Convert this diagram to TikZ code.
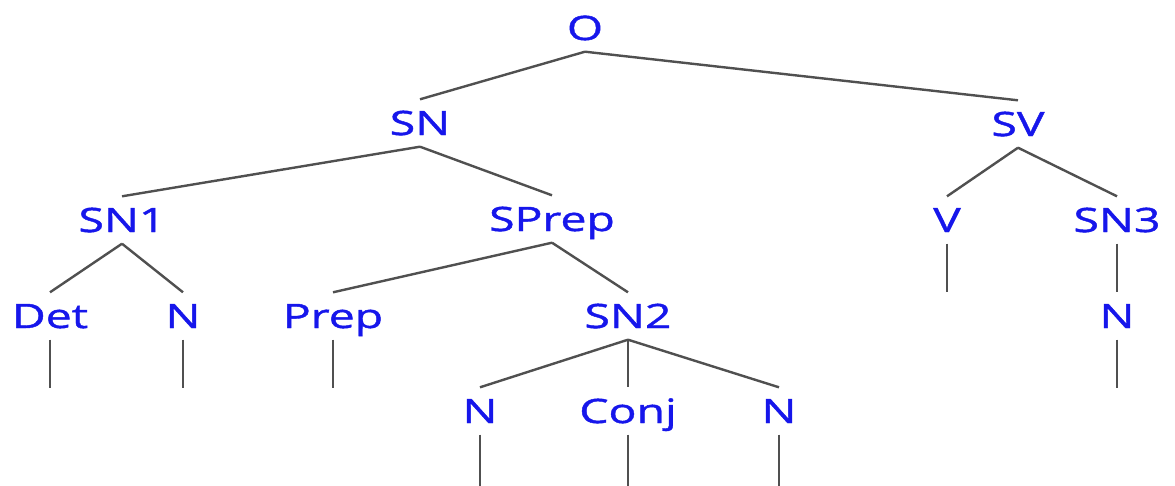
\documentclass[tikz,border=0pt]{standalone}
\usepackage{fontspec}
\newfontfamily\treefont[FakeStretch=1.38,FakeBold=1.3]{Open Sans}
\definecolor{labelblue}{RGB}{22,22,235}
\definecolor{edgegray}{RGB}{80,80,80}
\begin{document}
\begin{tikzpicture}[x=1pt,y=-1pt,
  lbl/.style={anchor=base,text=labelblue,inner xsep=0pt,inner ysep=11.5pt,
    text height=24pt,text depth=0pt,font=\treefont\fontsize{33.6}{40}\selectfont},
  edge/.style={draw=edgegray,line width=2.4pt}]
\useasboundingbox (0,0) rectangle (1175,485);
\fill[white] (0,0) rectangle (1175,485);
% nodes
\node[lbl] (O) at (585,40) {O};
\node[lbl] (SN) at (420,135) {SN};
\node[lbl] (SV) at (1018,136) {SV};
\node[lbl] (SNa) at (122,232) {SN1};
\node[lbl] (SPrep) at (552,231) {SPrep};
\node[lbl] (V) at (947,232) {V};
\node[lbl] (SNc) at (1117,232) {SN3};
\node[lbl] (Det) at (50,328) {Det};
\node[lbl] (Na) at (183,328) {N};
\node[lbl] (Prep) at (333,328) {Prep};
\node[lbl] (SNb) at (628,328) {SN2};
\node[lbl] (Nd) at (1117,328) {N};
\node[lbl] (Nb) at (480,423) {N};
\node[lbl] (Conj) at (628,423) {Conj};
\node[lbl] (Nc) at (779,423) {N};
% free ends
\coordinate (eDet) at (50,388);
\coordinate (eNa) at (183,388);
\coordinate (ePrep) at (333,388);
\coordinate (eV) at (947,292);
\coordinate (eNd) at (1117,388);
\coordinate (eNb) at (480,488);
\coordinate (eConj) at (628,488);
\coordinate (eNc) at (779,488);
% edges
\draw[edge] (O.south) -- (SN.north);
\draw[edge] (O.south) -- (SV.north);
\draw[edge] (SN.south) -- (SNa.north);
\draw[edge] (SN.south) -- (SPrep.north);
\draw[edge] (SV.south) -- (V.north);
\draw[edge] (SV.south) -- (SNc.north);
\draw[edge] (SNa.south) -- (Det.north);
\draw[edge] (SNa.south) -- (Na.north);
\draw[edge] (SPrep.south) -- (Prep.north);
\draw[edge] (SPrep.south) -- (SNb.north);
\draw[edge] (SNc.south) -- (Nd.north);
\draw[edge] (SNb.south) -- (Nb.north);
\draw[edge] (SNb.south) -- (Conj.north);
\draw[edge] (SNb.south) -- (Nc.north);
\draw[edge] (Det.south) -- (eDet);
\draw[edge] (Na.south) -- (eNa);
\draw[edge] (Prep.south) -- (ePrep);
\draw[edge] (V.south) -- (eV);
\draw[edge] (Nd.south) -- (eNd);
\draw[edge] (Nb.south) -- (eNb);
\draw[edge] (Conj.south) -- (eConj);
\draw[edge] (Nc.south) -- (eNc);
\end{tikzpicture}
\end{document}
